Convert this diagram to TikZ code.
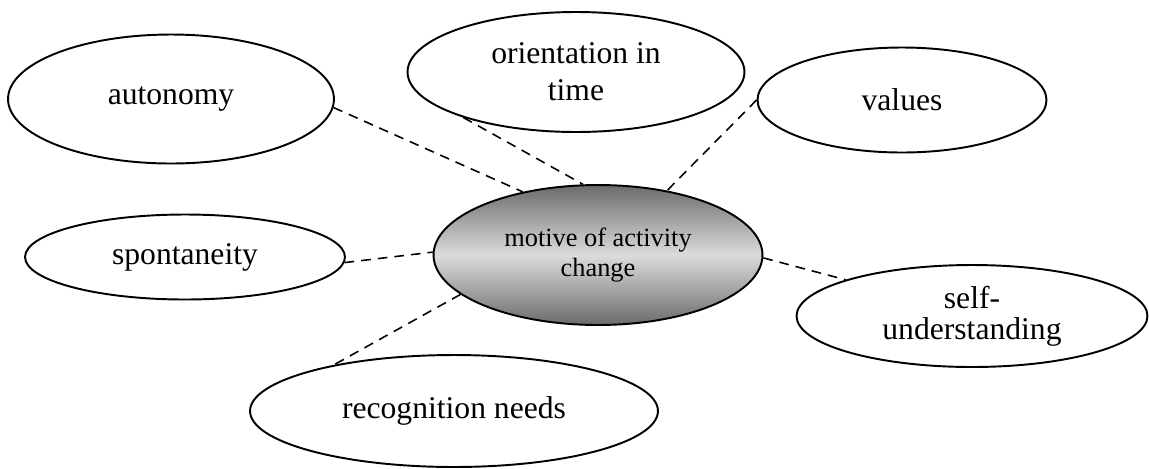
\documentclass[tikz,border=0pt]{standalone}
\usepackage{fontspec}
\setmainfont{Liberation Serif}
\usetikzlibrary{shapes.geometric}
\definecolor{motivedark}{gray}{0.42}
\definecolor{motivelight}{gray}{0.86}

\begin{document}
\begin{tikzpicture}[x=0.02cm,y=-0.02cm,
  trait/.style={draw,ellipse,line width=1.1pt,inner sep=0pt,align=center,font=\fontsize{18}{21}\selectfont},
  link/.style={line width=0.9pt,dash pattern=on 5.5pt off 4pt}]
\useasboundingbox (0,0) rectangle (1149,468);
\node[trait,top color=motivedark,bottom color=motivedark,middle color=motivelight,
  minimum width=6.58cm,minimum height=2.8cm,font=\fontsize{15}{17}\selectfont] (motive) at (598,255) {motive of activity\\change};
\node[trait,minimum width=6.52cm,minimum height=2.58cm] (auto) at (171,99) {autonomy};
\node[trait,minimum width=6.74cm,minimum height=2.4cm] (orient) at (576,72) {orientation in\\time};
\node[trait,minimum width=5.78cm,minimum height=2.1cm] (values) at (902,100) {values};
\node[trait,minimum width=6.4cm,minimum height=1.7cm] (spont) at (185,257) {spontaneity};
\node[trait,minimum width=7.02cm,minimum height=2.04cm,font=\fontsize{18}{17.5}\selectfont] (selfund) at (972,316) {self-\\understanding};
\node[trait,minimum width=8.16cm,minimum height=2.24cm] (recog) at (454,411) {recognition needs};
\draw[link] (auto.-3) -- (motive.140);
\draw[link] (orient.-158) -- (motive.102);
\draw[link] (values.180) -- (motive.43);
\draw[link] (spont.-2) -- (motive.179);
\draw[link] (motive.-1) -- (selfund.164);
\draw[link] (motive.-164) -- (recog.159);
\end{tikzpicture}
\end{document}
